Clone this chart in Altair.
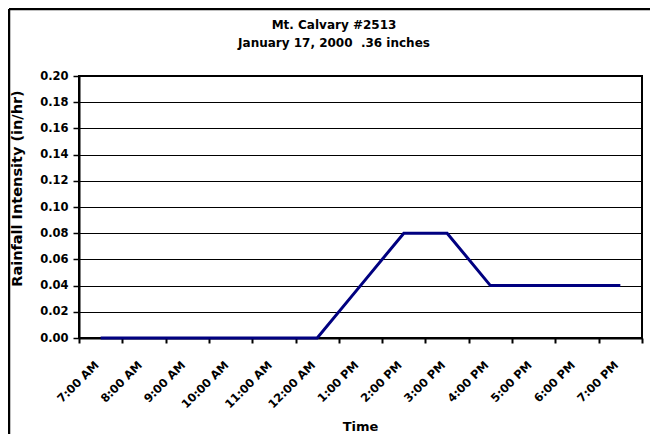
import altair as alt
import pandas as pd

times = ["7:00 AM", "8:00 AM", "9:00 AM", "10:00 AM", "11:00 AM", "12:00 AM",
         "1:00 PM", "2:00 PM", "3:00 PM", "4:00 PM", "5:00 PM", "6:00 PM", "7:00 PM"]
intensity = [0.0, 0.0, 0.0, 0.0, 0.0, 0.0, 0.04, 0.08, 0.08, 0.04, 0.04, 0.04, 0.04]
y_ticks = [0.0, 0.02, 0.04, 0.06, 0.08, 0.10, 0.12, 0.14, 0.16, 0.18, 0.20]
title_lines = ["Mt. Calvary #2513", "January 17, 2000\u00a0 .36 inches"]

df = pd.DataFrame({"Time": times, "Intensity": intensity})
FONT = "DejaVu Sans"

line = alt.Chart(df).mark_line(color="#000080", strokeWidth=3).encode(
    x=alt.X("Time:O", sort=times,
            scale=alt.Scale(type="band", domain=times, paddingInner=0, paddingOuter=0),
            axis=alt.Axis(title="Time", labelAngle=-45, labelAlign="right", labelBaseline="top",
                          labelFont=FONT, labelFontWeight="bold", labelFontSize=11.5,
                          labelColor="black", labelPadding=16, labelOffset=-8,
                          tickBand="extent", tickSize=5, tickColor="black", tickWidth=2,
                          domainColor="black", domainWidth=2, grid=False,
                          titleFont=FONT, titleFontWeight="bold", titleFontSize=13,
                          titleColor="black", titleX=281, titleY=88,
                          titleBaseline="middle", titleAlign="center")),
    y=alt.Y("Intensity:Q",
            scale=alt.Scale(domain=[0, 0.2], nice=False),
            axis=alt.Axis(title="Rainfall Intensity (in/hr)", values=y_ticks, format=".2f",
                          labelFont=FONT, labelFontWeight="bold", labelFontSize=11.5,
                          labelColor="black", labelPadding=5,
                          tickSize=6, tickColor="black", tickWidth=1.5,
                          domainColor="black", domainWidth=2,
                          grid=True, gridColor="black", gridWidth=1, gridOpacity=1,
                          titleFont=FONT, titleFontWeight="bold", titleFontSize=14.5,
                          titleColor="black", titleX=-62, titleY=112, titleAngle=-90,
                          titleBaseline="middle", titleAlign="center")),
)

frame_df = pd.DataFrame({"a": [0]})
frame_left = alt.Chart(frame_df).mark_rule(color="black", strokeWidth=2.5).encode(
    x=alt.value(-70), y=alt.value(-67), y2=alt.value(400))
frame_top = alt.Chart(frame_df).mark_rule(color="black", strokeWidth=2.5).encode(
    x=alt.value(-70), x2=alt.value(600), y=alt.value(-67))

title1 = alt.Chart(frame_df).mark_text(
    text=title_lines[0], font=FONT, fontWeight="bold", fontSize=12, color="black",
    align="center", baseline="alphabetic").encode(x=alt.value(255), y=alt.value(-47))
title2 = alt.Chart(frame_df).mark_text(
    text=title_lines[1], font=FONT, fontWeight="bold", fontSize=12, color="black",
    align="center", baseline="alphabetic").encode(x=alt.value(255), y=alt.value(-29))

chart = alt.layer(line, frame_left, frame_top, title1, title2).properties(
    width=563, height=262,
    autosize=alt.AutoSizeParams(type="none"),
    padding={"left": 71, "top": 68, "right": 8, "bottom": 96},
).configure_view(stroke="black", strokeWidth=2)

chart.save("out.html", embed_options={"renderer": "svg", "actions": False})
